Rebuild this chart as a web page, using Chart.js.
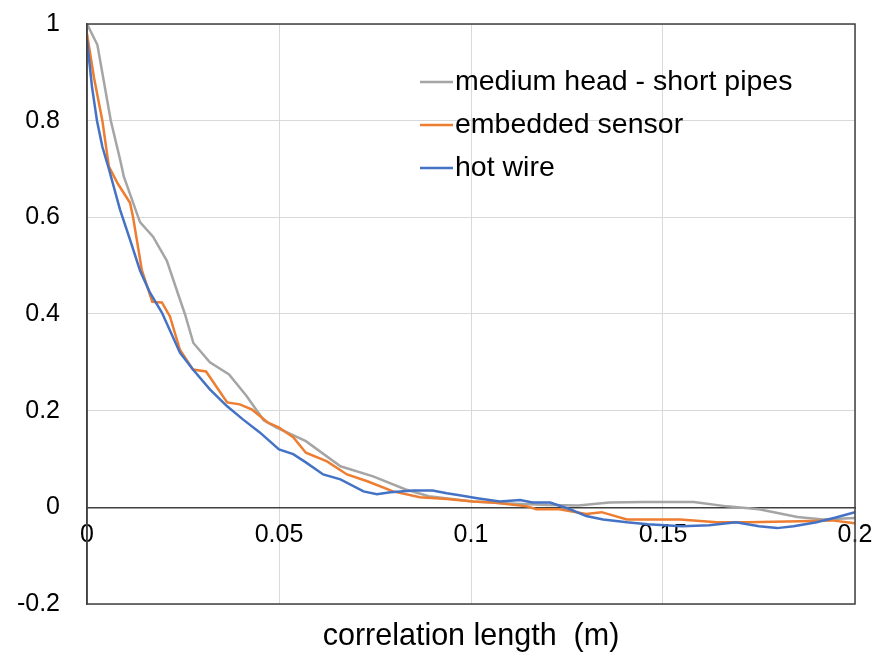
<!DOCTYPE html>
<html>
<head>
<meta charset="utf-8">
<script src="https://cdn.jsdelivr.net/npm/chart.js@4.4.0/dist/chart.umd.min.js"></script>
<style>
  html, body { margin: 0; padding: 0; background: #fff; }
</style>
</head>
<body>
<canvas id="myChart" width="880" height="657"></canvas>
<script>
// valores
const mediumX = [0, 0.0027, 0.0062, 0.0086, 0.0096, 0.0138, 0.0172, 0.0208, 0.0242, 0.0255, 0.0277, 0.032, 0.037, 0.0416, 0.046, 0.0494, 0.057, 0.066, 0.0745, 0.083, 0.089, 0.1005, 0.11, 0.12, 0.128, 0.136, 0.145, 0.158, 0.1667, 0.175, 0.185, 0.1917, 0.2];
const mediumY = [1.0, 0.957, 0.80, 0.72, 0.684, 0.59, 0.56, 0.51, 0.43, 0.40, 0.34, 0.30, 0.275, 0.23, 0.18, 0.165, 0.137, 0.085, 0.064, 0.037, 0.023, 0.012, 0.008, 0.005, 0.004, 0.01, 0.011, 0.011, 0.002, -0.004, -0.02, -0.025, -0.022];

const embeddedX = [0, 0.0018, 0.004, 0.0057, 0.008, 0.0112, 0.012, 0.0143, 0.017, 0.0195, 0.0216, 0.0242, 0.0276, 0.031, 0.0365, 0.0398, 0.043, 0.047, 0.050, 0.0537, 0.057, 0.0625, 0.0677, 0.073, 0.0797, 0.0867, 0.0937, 0.1005, 0.1057, 0.1146, 0.117, 0.123, 0.130, 0.134, 0.1406, 0.1466, 0.1545, 0.164, 0.172, 0.1857, 0.194, 0.2];
const embeddedY = [0.98, 0.89, 0.80, 0.705, 0.67, 0.63, 0.60, 0.49, 0.425, 0.424, 0.395, 0.326, 0.285, 0.281, 0.217, 0.213, 0.202, 0.176, 0.165, 0.145, 0.113, 0.095, 0.068, 0.054, 0.033, 0.021, 0.017, 0.012, 0.01, 0.002, -0.004, -0.004, -0.014, -0.01, -0.025, -0.025, -0.025, -0.031, -0.031, -0.029, -0.027, -0.033];

const hotX = [0, 0.0013, 0.0026, 0.004, 0.0057, 0.0086, 0.0112, 0.0138, 0.0164, 0.0195, 0.0242, 0.0276, 0.032, 0.0365, 0.0406, 0.045, 0.050, 0.0537, 0.057, 0.0615, 0.066, 0.072, 0.0755, 0.079, 0.085, 0.090, 0.0937, 0.097, 0.1016, 0.1075, 0.1128, 0.116, 0.1206, 0.1258, 0.130, 0.1344, 0.1406, 0.146, 0.155, 0.162, 0.169, 0.175, 0.1797, 0.184, 0.190, 0.195, 0.2];
const hotY = [0.967, 0.87, 0.80, 0.746, 0.70, 0.616, 0.554, 0.49, 0.444, 0.403, 0.32, 0.285, 0.244, 0.209, 0.182, 0.155, 0.12, 0.11, 0.093, 0.068, 0.058, 0.033, 0.027, 0.031, 0.035, 0.035, 0.029, 0.025, 0.019, 0.012, 0.015, 0.01, 0.01, -0.004, -0.018, -0.025, -0.031, -0.035, -0.039, -0.037, -0.031, -0.039, -0.043, -0.039, -0.031, -0.021, -0.01];

const seriesNames = ['medium head - short pipes', 'embedded sensor', 'hot wire'];
const xTicks = [0, 0.05, 0.1, 0.15, 0.2];
const yTicks = [-0.2, 0, 0.2, 0.4, 0.6, 0.8, 1];
const xTitle = 'correlation length  (m)';

function pts(xs, ys) {
  return xs.map((x, i) => ({x: x, y: ys[i]}));
}

Chart.defaults.font.family = "'Liberation Sans', Arial, sans-serif";
Chart.defaults.color = '#000';

// borda, legenda e título do eixo x
const extras = {
  id: 'extras',
  afterDraw(chart) {
    const c = chart.ctx;
    const a = chart.chartArea;
    c.save();
    c.strokeStyle = '#404040';
    c.lineWidth = 1.5;
    c.strokeRect(a.left, a.top, a.right - a.left, a.bottom - a.top);

    c.font = "28.5px 'Liberation Sans', Arial, sans-serif";
    c.textBaseline = 'middle';
    c.fillStyle = '#000';
    chart.data.datasets.forEach((ds, i) => {
      const y = 82 + i * 43;
      c.strokeStyle = ds.borderColor;
      c.lineWidth = 2.5;
      c.beginPath();
      c.moveTo(420, y);
      c.lineTo(453, y);
      c.stroke();
      c.textAlign = 'left';
      c.fillText(ds.label, 455, y);
    });

    c.textAlign = 'center';
    c.font = "30.5px 'Liberation Sans', Arial, sans-serif";
    c.fillText(xTitle, (a.left + a.right) / 2, 637);
    c.restore();
  }
};

const ctx = document.querySelector('#myChart').getContext('2d');
const myChart = new Chart(ctx, {
  type: 'line',
  data: {
    datasets: [
      {label: seriesNames[0], data: pts(mediumX, mediumY), borderColor: '#A5A5A5', order: 2},
      {label: seriesNames[1], data: pts(embeddedX, embeddedY), borderColor: '#ED7D31', order: 1},
      {label: seriesNames[2], data: pts(hotX, hotY), borderColor: '#4472C4', order: 0}
    ]
  },
  options: {
    responsive: false,
    animation: false,
    layout: {padding: {left: 0, right: 25, top: 24, bottom: 53}},
    elements: {
      point: {radius: 0},
      line: {borderWidth: 2.5, tension: 0}
    },
    plugins: {
      legend: {display: false},
      tooltip: {enabled: false}
    },
    scales: {
      x: {
        type: 'linear',
        min: xTicks[0],
        max: xTicks[xTicks.length - 1],
        position: {y: 0},
        afterBuildTicks: s => { s.ticks = xTicks.map(v => ({value: v})); },
        afterFit: s => { s.paddingLeft = 0; s.paddingRight = 0; },
        ticks: {
          font: {size: 25},
          padding: 13,
          maxRotation: 0,
          callback: v => String(Math.round(v * 100) / 100)
        },
        grid: {color: '#d9d9d9', drawTicks: false},
        border: {color: '#404040', width: 1.5}
      },
      y: {
        min: yTicks[0],
        max: yTicks[yTicks.length - 1],
        afterBuildTicks: s => { s.ticks = yTicks.map(v => ({value: v})); },
        afterFit: s => { s.width = 87; s.paddingTop = 0; s.paddingBottom = 0; },
        ticks: {
          font: {size: 25},
          padding: 27,
          callback: v => String(Math.round(v * 10) / 10)
        },
        grid: {color: ctx => ctx.tick && ctx.tick.value === 0 ? 'rgba(0,0,0,0)' : '#d9d9d9', drawTicks: false},
        border: {color: '#404040', width: 1.5}
      }
    }
  },
  plugins: [extras]
});
</script>
</body>
</html>
